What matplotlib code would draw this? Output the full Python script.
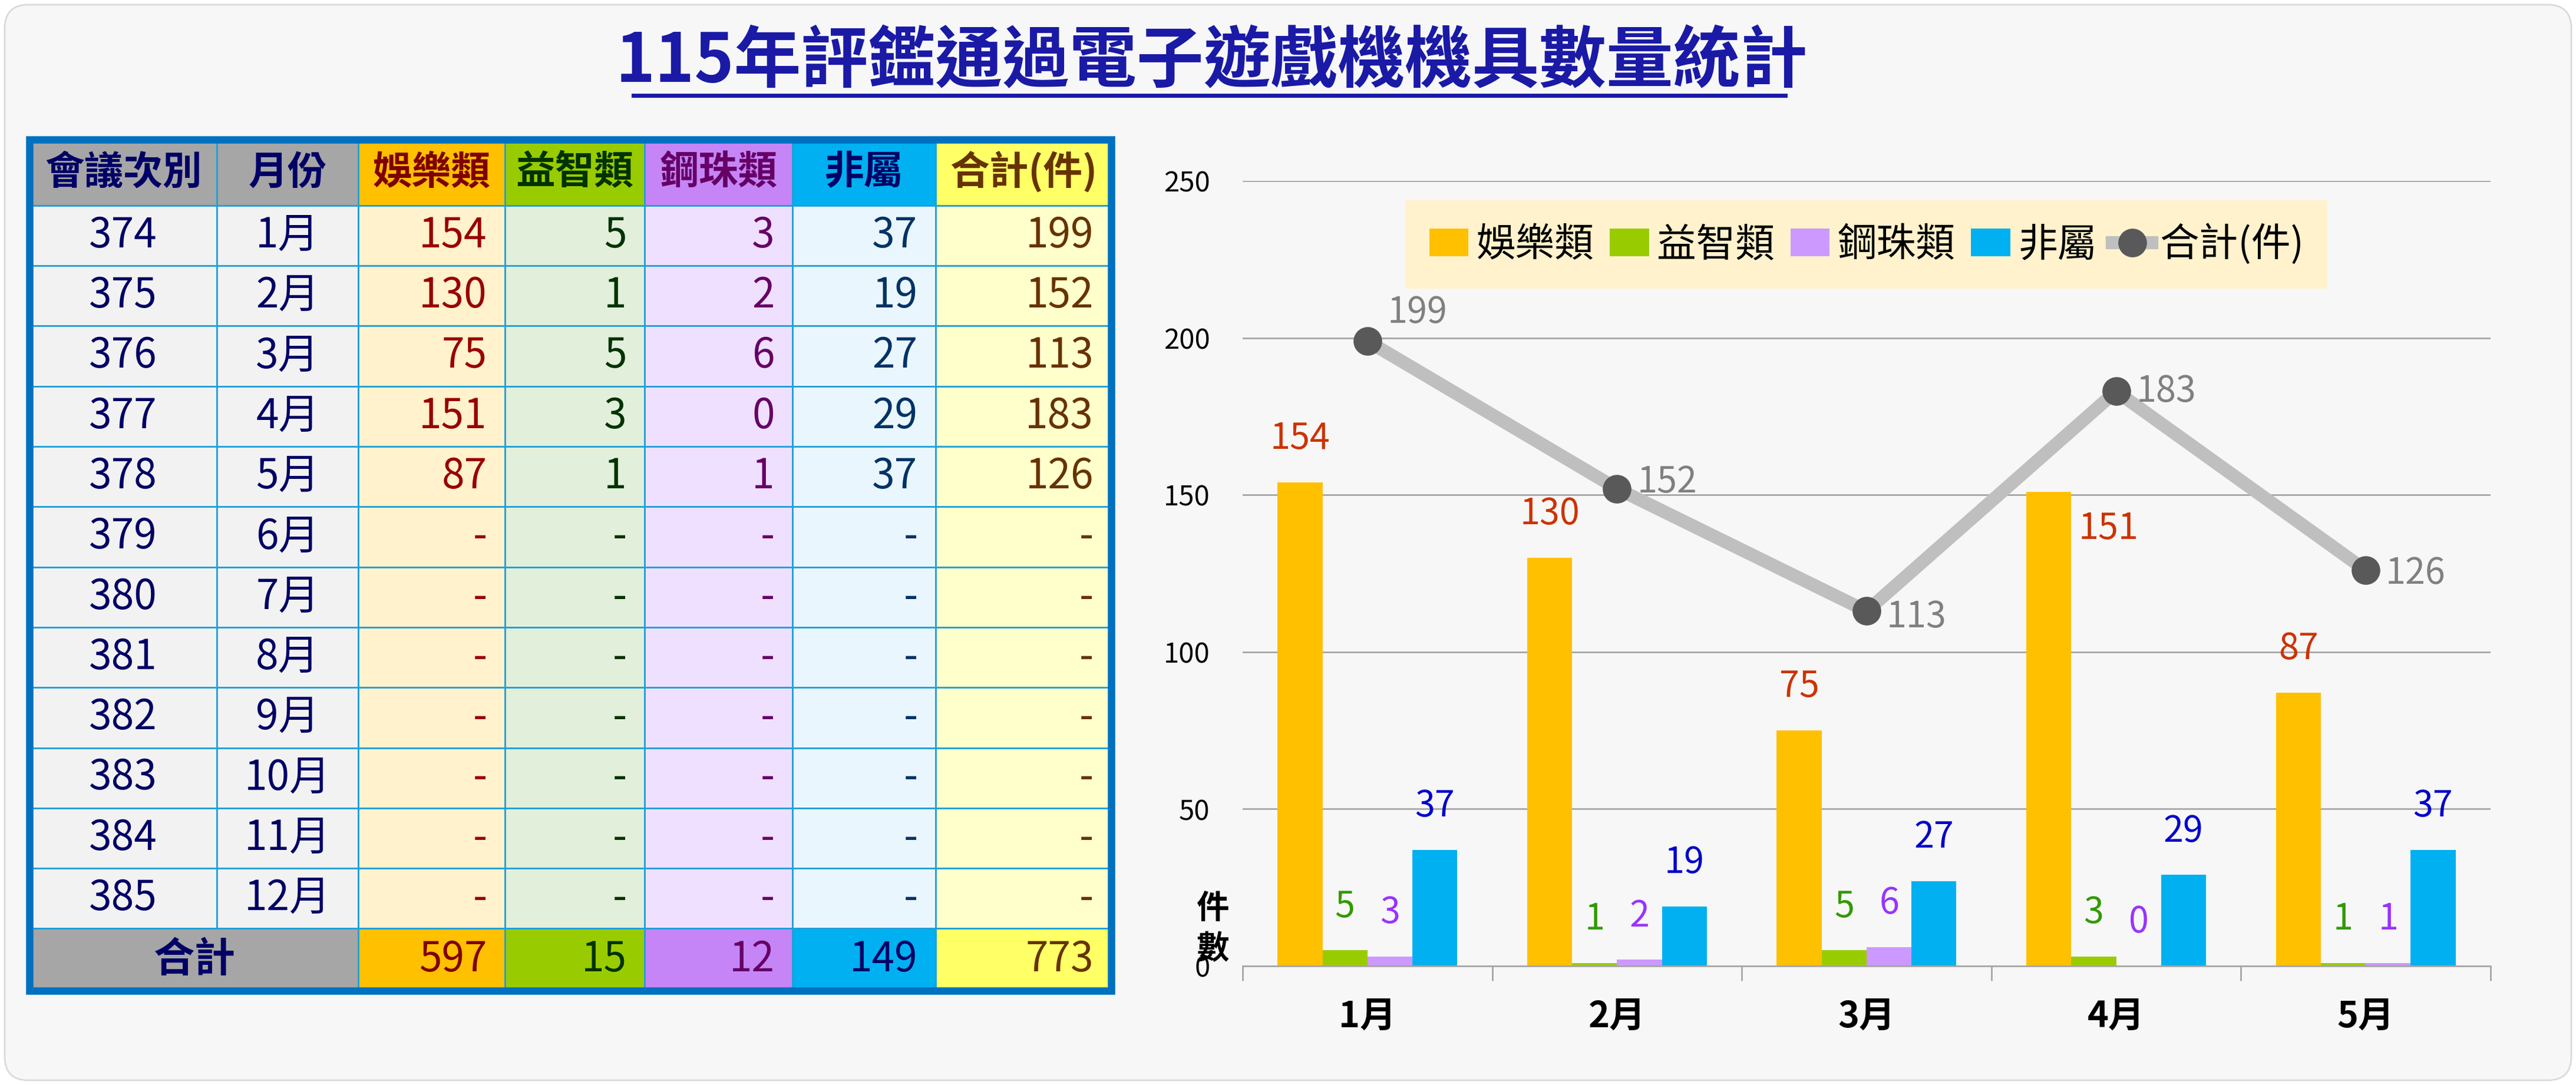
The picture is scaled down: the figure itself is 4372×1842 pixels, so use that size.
import numpy as np
import matplotlib.pyplot as plt
from matplotlib.patches import Rectangle, FancyBboxPatch

plt.rcParams['font.family'] = ['Noto Sans CJK TC', 'DejaVu Sans']

# 資料
sessions = ["374", "375", "376", "377", "378", "379", "380", "381", "382", "383", "384", "385"]
months = ["1月", "2月", "3月", "4月", "5月", "6月", "7月", "8月", "9月", "10月", "11月", "12月"]
header = ["會議次別", "月份", "娛樂類", "益智類", "鋼珠類", "非屬", "合計(件)"]
ent = [154, 130, 75, 151, 87]
puz = [5, 1, 5, 3, 1]
pach = [3, 2, 6, 0, 1]
other = [37, 19, 27, 29, 37]
total = [199, 152, 113, 183, 126]
sums = [597, 15, 12, 149, 773]

W, H = 4372, 1842
fig = plt.figure(figsize=(W / 100, H / 100), dpi=100, facecolor="white")

# 背景面板與標題
bg = fig.add_axes([0, 0, 1, 1])
bg.set_xlim(0, W)
bg.set_ylim(H, 0)
bg.axis("off")
bg.add_patch(FancyBboxPatch((8, 8), W - 16, H - 16, boxstyle="round,pad=0,rounding_size=40",
                            fc="#f7f7f7", ec="#dadada", lw=2))
bg.text(2056, 106, "115年評鑑通過電子遊戲機機具數量統計", fontsize=82, fontweight="bold",
        color="#1a1aa6", ha="center", va="center")
bg.plot([1075, 3030], [162, 162], color="#1a1aa6", lw=5)

# 表格
col_x = np.array([18, 132, 218, 307, 392, 482, 569, 676]) * 2.79
row_h = 36.67 * 2.79
y_head0, y_head1 = 85 * 2.79, 125 * 2.79
head_fc = ["#a6a6a6", "#a6a6a6", "#ffc000", "#99cc00", "#c585f7", "#00b0f0", "#ffff66"]
head_tc = ["#000066", "#000066", "#800000", "#003300", "#660066", "#000066", "#663300"]
body_fc = ["#f2f2f2", "#f2f2f2", "#fff2cc", "#e2efda", "#f0e0ff", "#eaf6fd", "#ffffcc"]
body_tc = ["#000066", "#000066", "#990000", "#003300", "#660066", "#003366", "#663300"]
series = [ent, puz, pach, other, total]
fs = 50

for j in range(7):
    x0, x1 = col_x[j], col_x[j + 1]
    bg.add_patch(Rectangle((x0, y_head0), x1 - x0, y_head1 - y_head0, fc=head_fc[j], ec="#1fa0d8", lw=2))
    bg.text((x0 + x1) / 2, (y_head0 + y_head1) / 2, header[j], fontsize=fs - 2, fontweight="bold",
            color=head_tc[j], ha="center", va="center")
    for i in range(12):
        y0 = y_head1 + i * row_h
        bg.add_patch(Rectangle((x0, y0), x1 - x0, row_h, fc=body_fc[j], ec="#1fa0d8", lw=2))
        if j == 0:
            txt, ha, tx = sessions[i], "center", (x0 + x1) / 2
        elif j == 1:
            txt, ha, tx = months[i], "center", (x0 + x1) / 2
        else:
            s = series[j - 2]
            txt = str(s[i]) if i < len(s) else "-"
            ha, tx = "right", x1 - 30
        bg.text(tx, y0 + row_h / 2, txt, fontsize=fs, fontweight="medium", color=body_tc[j],
                ha=ha, va="center")

y_tot0 = y_head1 + 12 * row_h
y_tot1 = 603 * 2.79
tot_fc = ["#a6a6a6", "#ffc000", "#99cc00", "#c585f7", "#00b0f0", "#ffff66"]
tot_tc = ["#000066", "#800000", "#003300", "#660066", "#000066", "#663300"]
bg.add_patch(Rectangle((col_x[0], y_tot0), col_x[2] - col_x[0], y_tot1 - y_tot0, fc=tot_fc[0], ec="#1fa0d8", lw=2))
bg.text((col_x[0] + col_x[2]) / 2, (y_tot0 + y_tot1) / 2, "合計", fontsize=fs, fontweight="bold",
        color=tot_tc[0], ha="center", va="center")
for k in range(5):
    x0, x1 = col_x[k + 2], col_x[k + 3]
    bg.add_patch(Rectangle((x0, y_tot0), x1 - x0, y_tot1 - y_tot0, fc=tot_fc[k + 1], ec="#1fa0d8", lw=2))
    bg.text(x1 - 30, (y_tot0 + y_tot1) / 2, str(sums[k]), fontsize=fs, fontweight="medium",
            color=tot_tc[k + 1], ha="right", va="center")
bg.add_patch(Rectangle((col_x[0], y_head0), col_x[-1] - col_x[0], y_tot1 - y_head0, fc="none",
                       ec="#0070c0", lw=9))

# 圖表
ax = fig.add_axes([0.4824, 0.1097, 0.4844, 0.7236])
ax.set_facecolor("none")
x = np.arange(5)
w = 0.18
bar_cols = ["#ffc000", "#99cc00", "#cc99ff", "#00b0f0"]
lab_cols = ["#cc3300", "#339900", "#9933ff", "#0000cc"]
names = ["娛樂類", "益智類", "鋼珠類", "非屬"]
handles = []
for k, s in enumerate(series[:4]):
    pos = x + (k - 1.5) * w
    handles.append(ax.bar(pos, s, width=w, color=bar_cols[k], label=names[k], zorder=2))
    for i, (p, v) in enumerate(zip(pos, s)):
        if k == 0 and i == 3:
            # 與折線重疊，標籤放在長條右側
            ax.text(p + 0.12, v - 6, str(v), fontsize=44, color=lab_cols[k], ha="left", va="top", zorder=4)
        else:
            ax.text(p, v + 8, str(v), fontsize=44, color=lab_cols[k], ha="center", va="bottom", zorder=4)
line, = ax.plot(x, total, color="#bfbfbf", lw=16, marker="o", markersize=34, markerfacecolor="#595959",
                markeredgecolor="#595959", label="合計(件)", zorder=3)
handles.append(line)
offs = [9, 2, -2, 0, -1]
for p, v, o in zip(x, total, offs):
    ax.text(p + 0.08, v + o, str(v), fontsize=44, color="#808080", ha="left", va="center", zorder=4)

ax.set_xlim(-0.5, 4.5)
ax.set_ylim(0, 250)
ax.set_yticks(range(0, 251, 50))
ax.yaxis.grid(True, color="#a6a6a6", lw=2, zorder=0)
ax.tick_params(axis="y", length=0, labelsize=34, pad=40)
ax.set_xticks(x)
ax.set_xticklabels(months[:5], fontsize=44, fontweight="bold")
ax.set_xticks(np.arange(-0.5, 5, 1), minor=True)
ax.tick_params(axis="x", which="major", length=0, pad=40)
ax.tick_params(axis="x", which="minor", length=18, width=2, color="#a6a6a6")
for sp in ["left", "right", "top"]:
    ax.spines[sp].set_visible(False)
ax.spines["bottom"].set_color("#a6a6a6")
ax.spines["bottom"].set_linewidth(2)
ax.text(-0.62, 0, "件\n數", fontsize=40, fontweight="bold", ha="center", va="bottom", linespacing=1.3)

leg = ax.legend(handles=handles, labels=names + ["合計(件)"], loc="upper center",
                bbox_to_anchor=(0.5, 1.0), ncol=5, fontsize=48, frameon=True,
                facecolor="#fff2cc", edgecolor="none", framealpha=1, handlelength=1.0,
                handletextpad=0.2, columnspacing=0.4, borderpad=0.6, fancybox=False)
leg.set_zorder(5)

fig.savefig("out.png", dpi=100, facecolor="white")
